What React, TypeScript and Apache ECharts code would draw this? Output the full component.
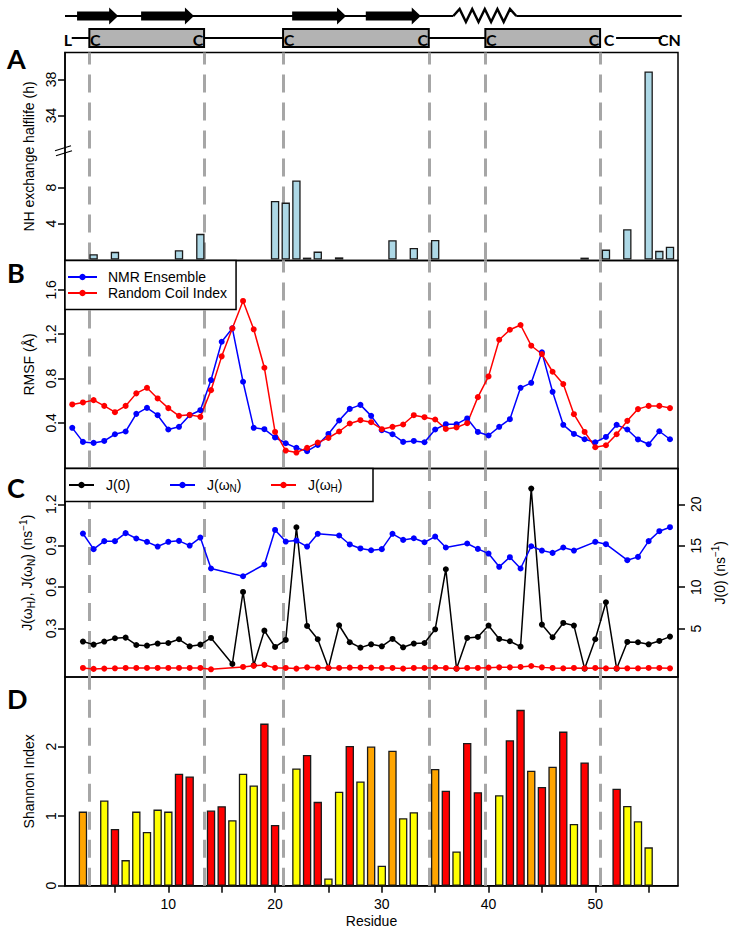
import React, { useEffect, useRef } from 'react';
import * as echarts from 'echarts';

// ---------------- data ----------------
const residueRange = [0.32, 57.75];
const cysteineBoundaries = [2.6, 13.35, 20.75, 34.4, 39.7, 50.45];
const strandRanges = [[1.45, 5.3], [7.45, 12.4], [21.6, 26.65], [28.5, 33.65]];
const helixRange = [36.7, 42.6];
const disulfideBoxes = [[2.6, 13.35], [20.75, 34.4], [39.7, 50.45]];
const residueTicks = [5, 10, 15, 20, 25, 30, 35, 40, 45, 50, 55];
const residueLabels = [10, 20, 30, 40, 50];

// Panel A: NH exchange half-life (h)
const exchangeResidues = [3, 5, 11, 13, 20, 21, 22, 23, 24, 26, 31, 33, 35, 49, 51, 53, 55, 56, 57];
const exchangeHalflife = [0.6, 0.86, 1.04, 2.86, 6.52, 6.33, 8.78, 0.22, 0.89, 0.25, 2.15, 1.3, 2.19, 0.22, 1.11, 3.37, 38.9, 0.97, 1.44];
const exchangeTicks = [4, 8, 34, 38];
const breakLow = 12;
const breakShift = 18;

// Panel B: RMSF
const rmsfResidues = [1, 2, 3, 4, 5, 6, 7, 8, 9, 10, 11, 12, 13, 14, 15, 16, 17, 18, 19, 20, 21, 22, 23, 24, 25, 26, 27, 28, 29, 30, 31, 32, 33, 34, 35, 36, 37, 38, 39, 40, 41, 42, 43, 44, 45, 46, 47, 48, 49, 50, 51, 52, 53, 54, 55, 56, 57];
const rmsfNmr = [0.355, 0.228, 0.219, 0.237, 0.297, 0.322, 0.481, 0.535, 0.469, 0.340,
  0.364, 0.469, 0.514, 0.786, 1.132, 1.253, 0.771, 0.355, 0.343, 0.268,
  0.216, 0.174, 0.144, 0.201, 0.300, 0.421, 0.526, 0.562, 0.463, 0.334,
  0.297, 0.228, 0.237, 0.225, 0.340, 0.388, 0.388, 0.440, 0.318, 0.286,
  0.364, 0.433, 0.716, 0.761, 1.036, 0.680, 0.382, 0.300, 0.252, 0.225,
  0.273, 0.382, 0.340, 0.250, 0.207, 0.324, 0.252];
const rmsfRci = [0.566, 0.584, 0.605, 0.553, 0.496, 0.553, 0.666, 0.716, 0.620, 0.533,
  0.463, 0.472, 0.454, 0.695, 1.000, 1.253, 1.500, 1.244, 0.897, 0.318,
  0.150, 0.132, 0.174, 0.222, 0.264, 0.322, 0.394, 0.424, 0.406, 0.343,
  0.364, 0.385, 0.469, 0.451, 0.430, 0.345, 0.358, 0.397, 0.632, 0.819,
  1.150, 1.240, 1.283, 1.096, 1.021, 0.861, 0.750, 0.478, 0.318, 0.180,
  0.198, 0.297, 0.418, 0.524, 0.553, 0.553, 0.533];
const rmsfTicks = [0.4, 0.8, 1.2, 1.6];

// Panel C: spectral densities
const relaxResidues = [2, 3, 4, 5, 6, 7, 8, 9, 10, 11, 12, 13, 14, 15, 16, 17, 18, 19, 20, 21, 22, 23, 24, 25, 26, 27, 28, 29, 30, 31, 32, 33, 34, 35, 36, 37, 38, 39, 40, 41, 42, 43, 44, 45, 46, 47, 48, 49, 50, 51, 52, 53, 54, 55, 56, 57];
const jZero = [3.43, 3.06, 3.43, 3.83, 3.91, 3.02, 2.94, 3.19, 3.26, 3.71, 2.86, 3.06, 3.87, null,
  0.73, 9.42, 0.57, 4.75, 2.78, 3.63, 17.23, 5.32, 3.71, 0.24, 5.40, 3.35, 2.70, 3.10,
  2.86, 3.75, 2.74, 3.19, 3.26, 4.91, 12.16, 0.16, 3.87, 3.99, 5.36, 3.75, 3.47, 2.82,
  21.9, 5.48, 3.95, 5.68, 5.36, 0.16, 3.71, 8.18, 0.16, 3.39, 3.35, 3.10, 3.51, 4.03];
const jOmegaN = [0.988, 0.875, 0.933, 0.933, 0.991, 0.952, 0.928, 0.894, 0.928, 0.935, 0.901, 0.959, 0.735, null,
  null, 0.679, null, 0.764, 1.014, 0.930, 0.937, 0.894, 0.986, null, 0.974, 0.909, 0.880, 0.867,
  0.875, 0.986, 0.942, 0.954, 0.925, 0.966, 0.887, null, 0.916, 0.877, 0.843, 0.747, 0.817, 0.735,
  0.896, 0.865, 0.848, 0.887, 0.865, null, 0.928, 0.911, null, 0.795, 0.819, 0.933, 1.005, 1.034];
const jOmegaH = [0.015, 0.008, 0.010, 0.012, 0.015, 0.015, 0.015, 0.015, 0.015, 0.015, 0.015, 0.015, 0.005, null,
  null, 0.022, 0.030, 0.037, 0.015, 0.015, 0.010, 0.019, 0.017, 0.015, 0.015, 0.017, 0.017, 0.017,
  0.015, 0.015, 0.010, 0.015, 0.015, 0.017, 0.015, 0.010, 0.015, 0.015, 0.017, 0.019, 0.019, 0.022,
  0.029, 0.019, 0.015, 0.012, 0.015, 0.012, 0.015, 0.012, 0.012, 0.012, 0.012, 0.015, 0.015, 0.012];
const jLeftTicks = [0.3, 0.6, 0.9, 1.2];
const jRightTicks = [5, 10, 15, 20];

// Panel D: Shannon index
const shannonResidues = [2, 4, 5, 6, 7, 8, 9, 10, 11, 12, 14, 15, 16, 17, 18, 19, 20, 22, 23, 24, 25, 26, 27, 28, 29, 30, 31, 32, 33, 35, 36, 37, 38, 39, 41, 42, 43, 44, 45, 46, 47, 48, 49, 52, 53, 54, 55];
const shannonValues = [1.065, 1.224, 0.815, 0.368, 1.065, 0.772, 1.094, 1.065, 1.609, 1.570,
  1.08, 1.143, 0.94, 1.609, 1.44, 2.33, 0.873,
  1.686, 1.878, 1.205, 0.104, 1.35, 2.009, 1.498, 2.0, 0.286, 1.94, 0.97, 1.056,
  1.677, 1.364, 0.493, 2.052, 1.345,
  1.30, 2.09, 2.528, 1.652, 1.42, 1.71, 2.215, 0.887, 1.772,
  1.393, 1.147, 0.926, 0.551];
const shannonClass = ['o', 'y', 'r', 'y', 'y', 'y', 'y', 'y', 'r', 'r',
  'r', 'r', 'y', 'y', 'y', 'r', 'r',
  'y', 'r', 'r', 'y', 'y', 'r', 'y', 'o', 'y', 'o', 'y', 'y',
  'o', 'r', 'y', 'r', 'r',
  'y', 'r', 'r', 'o', 'r', 'o', 'r', 'y', 'r',
  'r', 'y', 'y', 'y'];
const shannonTicks = [0, 1, 2];
const classColors: Record<string, string> = { y: '#FFFF00', o: '#FFA500', r: '#FF0000' };

// ---------------- helpers ----------------
const axisFont = '"Liberation Sans", Arial, Helvetica, sans-serif';
const boldFont = 'Lato, "Open Sans", sans-serif';
const toBroken = (v: number) => (v > breakLow ? v - breakShift : v);
const fromBroken = (d: number) => (d > breakLow ? d + breakShift : d);

const GRID_LEFT = 65;
const GRID_WIDTH = 613;
const grids = [
  { top: 52.5, height: 208 },
  { top: 260.5, height: 208 },
  { top: 468.5, height: 208.5 },
  { top: 677, height: 208.7 },
];

function makeYAxis(gridIndex: number, min: number, max: number, ticks: number[], fmt: (v: number) => string, extra: any = {}) {
  const right = extra.position === 'right';
  return {
    type: 'value', gridIndex, min, max, position: right ? 'right' : 'left',
    axisLine: { show: true, onZero: false, lineStyle: { color: '#000', width: 1.5 } },
    axisTick: { show: true, customValues: ticks, length: 7, lineStyle: { color: '#000', width: 1.5 } },
    axisLabel: { show: true, customValues: ticks, rotate: 90, margin: right ? 11 : 7, formatter: fmt, color: '#000', fontSize: 14, fontFamily: axisFont },
    splitLine: { show: false },
    nameLocation: 'middle', nameRotate: 90, nameGap: right ? 30 : 27,
    nameTextStyle: { color: '#000', fontSize: 14, fontFamily: axisFont },
    ...extra,
  };
}

function makeXAxis(gridIndex: number, visible: boolean) {
  return {
    type: 'value', gridIndex, min: residueRange[0], max: residueRange[1],
    show: visible,
    position: 'bottom',
    axisLine: { show: true, onZero: false, lineStyle: { color: '#000', width: 1.5 } },
    axisTick: { show: true, customValues: residueTicks, length: 7, lineStyle: { color: '#000', width: 1.5 } },
    axisLabel: { show: true, customValues: residueLabels, margin: 11, color: '#000', fontSize: 14, fontFamily: axisFont },
    splitLine: { show: false },
    name: visible ? 'Residue' : '',
    nameLocation: 'middle', nameGap: 28,
    nameTextStyle: { color: '#000', fontSize: 14, fontFamily: axisFont },
  };
}

function guideSeries(gridIndex: number, yAxisIndex: number) {
  return {
    type: 'line', xAxisIndex: gridIndex, yAxisIndex, data: [], silent: true, z: 1,
    markLine: {
      silent: true, z: 1, symbol: 'none', animation: false,
      label: { show: false },
      lineStyle: { color: '#A6A6A6', width: 3, type: [18, 10] },
      data: cysteineBoundaries.map((x) => ({ xAxis: x })),
    },
  };
}

const lineStyleSeries = (name: string, color: string, xs: number[], ys: (number | null)[], xi: number, yi: number) => ({
  name, type: 'line', xAxisIndex: xi, yAxisIndex: yi,
  data: xs.map((x, i) => [x, ys[i] === null ? '-' : ys[i]]),
  connectNulls: true, symbol: 'circle', symbolSize: 6, showSymbol: true,
  lineStyle: { color, width: 1.5 }, itemStyle: { color }, z: 3,
});

function buildOption(): any {
  return {
    animation: false,
    backgroundColor: '#fff',
    grid: grids.map((g) => ({
      left: GRID_LEFT, top: g.top, width: GRID_WIDTH, height: g.height,
      show: true, borderColor: '#000', borderWidth: 1.5, backgroundColor: 'transparent',
      containLabel: false, outerBoundsMode: 'none',
    })),
    xAxis: [makeXAxis(0, false), makeXAxis(1, false), makeXAxis(2, false), makeXAxis(3, true)],
    yAxis: [
      makeYAxis(0, -0.1, 23.0, exchangeTicks.map(toBroken), (v) => String(fromBroken(v)), { name: 'NH exchange halflife (h)' }),
      makeYAxis(1, -0.012, 1.865, rmsfTicks, (v) => v.toFixed(1), { name: 'RMSF (Å)' }),
      makeYAxis(2, -0.0507, 1.459, jLeftTicks, (v) => v.toFixed(1), {
        name: '{t|J(ω}{s|H}{t|), J(ω}{s|N}{t|) (ns}{p|−1}{t|)}',
        nameTextStyle: {
          color: '#000', fontSize: 14, fontFamily: axisFont,
          rich: {
            t: { fontSize: 14, lineHeight: 18, fontFamily: axisFont, color: '#000' },
            s: { fontSize: 10, lineHeight: 10, verticalAlign: 'bottom', fontFamily: axisFont, color: '#000' },
            p: { fontSize: 10, lineHeight: 10, verticalAlign: 'top', fontFamily: axisFont, color: '#000' },
          },
        },
      }),
      makeYAxis(2, -0.845, 24.32, jRightTicks, (v) => String(v), {
        position: 'right',
        name: '{t|J(0) (ns}{p|−1}{t|)}',
        nameTextStyle: {
          color: '#000', fontSize: 14, fontFamily: axisFont,
          rich: {
            t: { fontSize: 14, lineHeight: 18, fontFamily: axisFont, color: '#000' },
            p: { fontSize: 10, lineHeight: 10, verticalAlign: 'top', fontFamily: axisFont, color: '#000' },
          },
        },
      }),
      makeYAxis(3, 0, 3.0, shannonTicks, (v) => String(v), { name: 'Shannon Index' }),
    ],
    legend: [
      {
        data: ['NMR Ensemble', 'Random Coil Index'],
        orient: 'vertical', left: 65, top: 260.5,
        backgroundColor: '#fff', borderColor: '#000', borderWidth: 1.5, borderRadius: 0,
        padding: [8.5, 9, 8.5, 2], itemGap: 0, itemWidth: 29, itemHeight: 8,
        textStyle: { color: '#000', fontSize: 14, fontFamily: axisFont, lineHeight: 16, padding: [0, 0, 0, 6] },
        selectedMode: false, z: 6,
      },
      {
        data: ['J(0)', 'J(ωN)', 'J(ωH)'],
        orient: 'horizontal', left: 65, top: 468.5,
        backgroundColor: '#fff', borderColor: '#000', borderWidth: 1.5, borderRadius: 0,
        padding: [8.5, 2, 8.5, 3], itemGap: 0, itemWidth: 25, itemHeight: 8,
        formatter: (name: string) => {
          if (name === 'J(ωN)') return '{t|J(ω}{s|N}{t|)}';
          if (name === 'J(ωH)') return '{t|J(ω}{s|H}{t|)}';
          return '{t|' + name + '}';
        },
        textStyle: {
          color: '#000', fontSize: 14, fontFamily: axisFont, lineHeight: 16, width: 63, padding: [0, 0, 0, 7],
          rich: {
            t: { fontSize: 14, lineHeight: 16, fontFamily: axisFont, color: '#000' },
            s: { fontSize: 10, lineHeight: 10, verticalAlign: 'bottom', fontFamily: axisFont, color: '#000' },
          },
        },
        selectedMode: false, z: 6,
      },
    ],
    series: [
      guideSeries(0, 0),
      {
        type: 'bar', xAxisIndex: 0, yAxisIndex: 0, barWidth: 8.4, z: 3,
        data: exchangeResidues.map((r, i) => [r, toBroken(exchangeHalflife[i])]),
        itemStyle: { color: '#ADD8E6', borderColor: '#1a1a1a', borderWidth: 1.3 },
      },
      guideSeries(1, 1),
      lineStyleSeries('NMR Ensemble', '#0000FF', rmsfResidues, rmsfNmr, 1, 1),
      lineStyleSeries('Random Coil Index', '#FF0000', rmsfResidues, rmsfRci, 1, 1),
      guideSeries(2, 2),
      lineStyleSeries('J(0)', '#000000', relaxResidues, jZero, 2, 3),
      lineStyleSeries('J(ωN)', '#0000FF', relaxResidues, jOmegaN, 2, 2),
      lineStyleSeries('J(ωH)', '#FF0000', relaxResidues, jOmegaH, 2, 2),
      guideSeries(3, 4),
      {
        type: 'bar', xAxisIndex: 3, yAxisIndex: 4, barWidth: 8.4, z: 3,
        data: shannonResidues.map((r, i) => ({
          value: [r, shannonValues[i]],
          itemStyle: { color: classColors[shannonClass[i]] },
        })),
        itemStyle: { borderColor: '#1a1a1a', borderWidth: 1.3 },
      },
    ],
  };
}

function buildOverlay(chart: any): any[] {
  const px = (v: number) => chart.convertToPixel({ xAxisIndex: 3 }, v) as number;
  const py = (v: number) => chart.convertToPixel({ yAxisIndex: 0 }, v) as number;
  const els: any[] = [];
  const yTop = 16;
  const yRow = 38;
  const black = '#000';

  // secondary-structure backbone
  els.push({ type: 'line', z: 10, shape: { x1: px(0.32), y1: yTop, x2: px(helixRange[0]), y2: yTop }, style: { stroke: black, lineWidth: 2 } });
  els.push({ type: 'line', z: 10, shape: { x1: px(helixRange[1]), y1: yTop, x2: px(58.1), y2: yTop }, style: { stroke: black, lineWidth: 2 } });
  strandRanges.forEach(([a, b]) => {
    const x1 = px(a), x2 = px(b), xh = x2 - 9;
    els.push({
      type: 'polygon', z: 11,
      shape: { points: [[x1, yTop - 4.5], [xh, yTop - 4.5], [xh, yTop - 8.5], [x2, yTop], [xh, yTop + 8.5], [xh, yTop + 4.5], [x1, yTop + 4.5]] },
      style: { fill: black },
    });
  });
  const h0 = px(helixRange[0]), h1 = px(helixRange[1]);
  const pts: number[][] = [];
  for (let i = 0; i <= 10; i++) {
    pts.push([h0 + ((h1 - h0) * i) / 10, i === 0 || i === 10 ? yTop : i % 2 ? yTop - 7 : yTop + 6]);
  }
  els.push({ type: 'polyline', z: 11, shape: { points: pts }, style: { stroke: black, lineWidth: 2.5, fill: null } });

  // disulfide row
  els.push({ type: 'line', z: 10, shape: { x1: px(0.95), y1: yRow, x2: px(disulfideBoxes[2][1]), y2: yRow }, style: { stroke: black, lineWidth: 2 } });
  els.push({ type: 'line', z: 10, shape: { x1: px(51.95), y1: yRow, x2: px(56.25), y2: yRow }, style: { stroke: black, lineWidth: 2 } });
  disulfideBoxes.forEach(([a, b]) => {
    const x1 = px(a), x2 = px(b);
    els.push({ type: 'rect', z: 11, shape: { x: x1, y: 29, width: x2 - x1, height: 18 }, style: { fill: '#B3B3B3', stroke: black, lineWidth: 2 } });
    els.push({ type: 'text', z: 12, x: x1 + 6, y: yRow + 1, style: { text: 'C', fill: black, font: `bold 16px ${boldFont}`, textAlign: 'center', textVerticalAlign: 'middle' } });
    els.push({ type: 'text', z: 12, x: x2 - 6, y: yRow + 1, style: { text: 'C', fill: black, font: `bold 16px ${boldFont}`, textAlign: 'center', textVerticalAlign: 'middle' } });
  });
  els.push({ type: 'text', z: 12, x: px(0.6), y: yRow + 1, style: { text: 'L', fill: black, font: `bold 16px ${boldFont}`, textAlign: 'center', textVerticalAlign: 'middle' } });
  els.push({ type: 'text', z: 12, x: px(51.3), y: yRow + 1, style: { text: 'C', fill: black, font: `bold 16px ${boldFont}`, textAlign: 'center', textVerticalAlign: 'middle' } });
  els.push({ type: 'text', z: 12, x: px(56.95), y: yRow + 1, style: { text: 'CN', fill: black, font: `bold 16px ${boldFont}`, textAlign: 'center', textVerticalAlign: 'middle' } });

  // axis break marks on panel A
  const yb = py(12.2);
  els.push({ type: 'line', z: 12, shape: { x1: 55, y1: yb + 1, x2: 71, y2: yb - 4 }, style: { stroke: black, lineWidth: 1.3 } });
  els.push({ type: 'line', z: 12, shape: { x1: 56, y1: yb + 6, x2: 72, y2: yb + 1 }, style: { stroke: black, lineWidth: 1.3 } });

  // panel letters
  const letters: [string, number][] = [['A', 58], ['B', 272], ['C', 487], ['D', 698]];
  letters.forEach(([t, y]) => {
    els.push({ type: 'text', z: 12, x: 7, y, style: { text: t, fill: black, font: `bold 27px ${boldFont}`, textAlign: 'left', textVerticalAlign: 'middle' } });
  });
  return els;
}

export default function App() {
  const ref = useRef<HTMLDivElement>(null);
  useEffect(() => {
    if (!ref.current) return;
    const chart = echarts.init(ref.current, null, { renderer: 'svg', width: 733, height: 936 });
    chart.setOption(buildOption());
    chart.setOption({ graphic: buildOverlay(chart) });
    return () => chart.dispose();
  }, []);
  return <div ref={ref} style={{ position: 'fixed', left: 0, top: 0, width: 733, height: 936, background: '#fff' }} />;
}
